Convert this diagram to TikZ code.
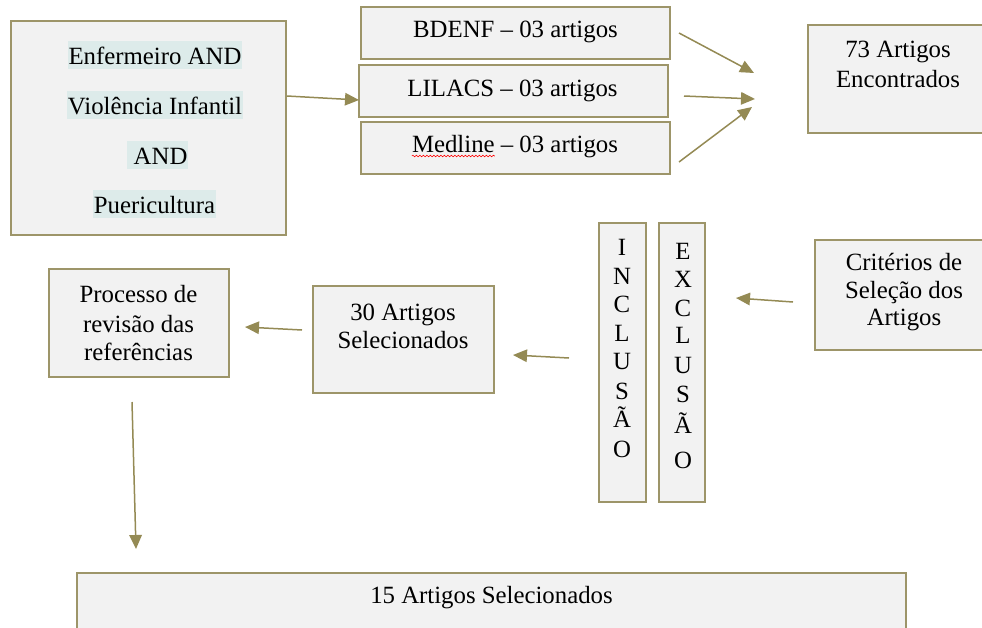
\documentclass[tikz,border=0pt]{standalone}
\usepackage{fontspec}
\setmainfont{Liberation Serif}
\usetikzlibrary{arrows.meta,calc,decorations.pathmorphing}
\definecolor{boxc}{HTML}{9D9569}
\definecolor{arrc}{HTML}{948A54}
\definecolor{boxfill}{HTML}{F2F2F2}
\definecolor{hlc}{HTML}{DDEBEA}
\newcommand\dfont{\fontsize{24.8pt}{29pt}\selectfont}
\tikzset{
  box/.style={draw=boxc, fill=boxfill, line width=1.8pt, inner sep=0pt},
  txt/.style={font=\dfont, inner sep=0pt, anchor=base, text=black},
  hl/.style={txt, fill=hlc, inner xsep=1pt, text height=23.5pt, text depth=4.5pt},
  arr/.style={draw=arrc, line width=1.5pt, -{Triangle[length=14pt,width=12.5pt]}, arrc},
}
\begin{document}
\begin{tikzpicture}[x=1pt,y=-1pt]
\useasboundingbox (0,0) rectangle (982,627);
\clip (0,0) rectangle (982,627);
% boxes
\node[box, minimum width=275pt, minimum height=214pt] (A) at (148.5,128) {};
\node[box, minimum width=309pt, minimum height=52pt] (bdenf) at (515.5,33) {};
\node[box, minimum width=309pt, minimum height=52pt] (lilacs) at (513.5,91) {};
\node[box, minimum width=309pt, minimum height=52pt] (medline) at (515.5,148) {};
\node[box, minimum width=180pt, minimum height=108pt] (found) at (898,79) {};
\node[box, minimum width=176pt, minimum height=110pt] (crit) at (903,295) {};
\node[box, minimum width=46pt, minimum height=279pt] (excl) at (682,362.5) {};
\node[box, minimum width=47pt, minimum height=279pt] (incl) at (622.5,362.5) {};
\node[box, minimum width=181pt, minimum height=107pt] (sel30) at (403.5,339.5) {};
\node[box, minimum width=180pt, minimum height=108pt] (proc) at (139,323) {};
\node[box, minimum width=829pt, minimum height=67pt] (sel15) at (491.5,606.5) {};
% texts of the first box
\node[hl] (a1) at (155,64) {Enfermeiro AND~};
\node[hl] (a2) at (155,114) {Violência Infantil};
\node[hl] (a3) at (157.5,164) {~AND~};
\node[hl] (a4) at (154.5,213) {Puericultura};
% databases
\node[txt] (tb) at (515.5,37) {BDENF – 03 artigos};
\node[txt] (tl) at (512.5,96) {LILACS – 03 artigos};
\node[txt] (tm) at (515,152) {Medline – 03 artigos};
\draw[red, line width=0.6pt, decorate, decoration={snake, segment length=3.5pt, amplitude=0.8pt}]
  ($(tm.base west)+(0,4)$) -- ++(83,0);
% found
\node[txt] (f1) at (898,57) {73 Artigos};
\node[txt] (f2) at (898,87) {Encontrados};
% criteria
\node[txt] (c1) at (904,270) {Critérios de};
\node[txt] (c2) at (904,298) {Seleção dos};
\node[txt] (c3) at (904,325) {Artigos};
% vertical words
\foreach \ch/\yy [count=\i] in {I/255,N/284,C/312,L/341,U/369,S/399,Ã/427,O/457}
  \node[txt] (inc\i) at (622,\yy) {\ch};
\foreach \ch/\yy [count=\i] in {E/259,X/287,C/316,L/343,U/373,S/402,Ã/433,O/468}
  \node[txt] (exc\i) at (683,\yy) {\ch};
% selected 30
\node[txt] (s1) at (403,320) {30 Artigos};
\node[txt] (s2) at (403,348) {Selecionados};
% process
\node[txt] (p1) at (138.5,302) {Processo de};
\node[txt] (p2) at (138.5,332) {revisão das};
\node[txt] (p3) at (138.5,360) {referências};
% selected 15
\node[txt] (s15) at (491.5,603) {15 Artigos Selecionados};
% arrow end points
\coordinate (e1s) at (287,96);  \coordinate (e1e) at (359,100);
\coordinate (e2s) at (679,33);  \coordinate (e2e) at (754,73);
\coordinate (e3s) at (684,96);  \coordinate (e3e) at (755,99);
\coordinate (e4s) at (679,162); \coordinate (e4e) at (752,107);
\coordinate (e5s) at (793,302); \coordinate (e5e) at (736,298);
\coordinate (e6s) at (569,358); \coordinate (e6e) at (513,355);
\coordinate (e7s) at (302,330); \coordinate (e7e) at (245,327);
\coordinate (e8s) at (132,402); \coordinate (e8e) at (136,549);
\foreach \k in {1,...,8} \draw[arr] (e\k s) -- (e\k e);
\end{tikzpicture}
\end{document}
